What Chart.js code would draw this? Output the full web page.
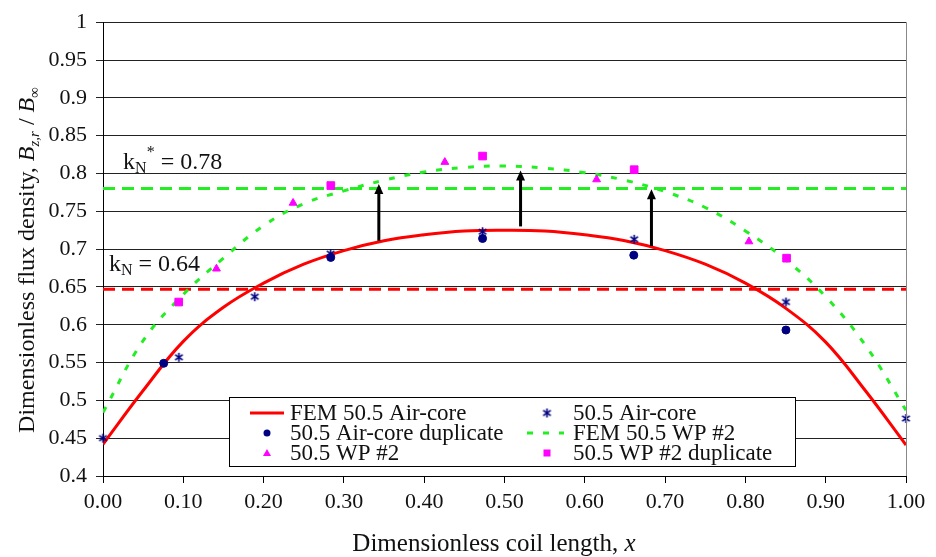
<!DOCTYPE html>
<html lang="en">
  <head>
    <meta charset="UTF-8" />
    <title>Dimensionless flux density along the coil</title>
    <script src="https://cdn.jsdelivr.net/npm/chart.js"></script>
    <style>
      html,
      body {
        margin: 0;
        padding: 0;
        background: #fff;
      }
      #wrap {
        width: 936px;
        height: 557px;
      }
    </style>
  </head>
  <body>
    <div id="wrap"><canvas id="fluxChart"></canvas></div>

    <script>
      const FONT = '"Liberation Serif", "Times New Roman", serif';

      // FEM curves, sampled every 0.05 of coil length
      const femX = [
        0, 0.05, 0.1, 0.15, 0.2, 0.25, 0.3, 0.35, 0.4, 0.45, 0.5, 0.55, 0.6,
        0.65, 0.7, 0.75, 0.8, 0.85, 0.9, 0.95, 1.0,
      ];
      const femAirCore = [
        0.442, 0.513, 0.578, 0.623, 0.655, 0.68, 0.698, 0.711, 0.719, 0.724,
        0.725, 0.724, 0.719, 0.711, 0.698, 0.68, 0.655, 0.622, 0.577, 0.512,
        0.441,
      ];
      const femWP2 = [
        0.484, 0.579, 0.64, 0.688, 0.731, 0.76, 0.777, 0.791, 0.802, 0.808,
        0.81, 0.807, 0.801, 0.791, 0.776, 0.755, 0.724, 0.686, 0.637, 0.572,
        0.487,
      ];

      // measurements
      const airCoreX = [0, 0.0945, 0.189, 0.2835, 0.4727, 0.6615, 0.8505, 1.0];
      const airCoreY = [0.45, 0.557, 0.637, 0.694, 0.723, 0.713, 0.63, 0.476];
      const airCoreDupX = [0.0756, 0.2836, 0.4727, 0.661, 0.8505];
      const airCoreDupY = [0.549, 0.689, 0.714, 0.692, 0.593];
      const wp2X = [0.1413, 0.2367, 0.4257, 0.6147, 0.8044];
      const wp2Y = [0.674, 0.761, 0.815, 0.792, 0.71];
      const wp2DupX = [0.0943, 0.2837, 0.4727, 0.6615, 0.8513];
      const wp2DupY = [0.63, 0.784, 0.823, 0.805, 0.688];

      // coupling factors and the arrows between the two FEM curves
      const kN = 0.647;
      const kNStar = 0.78;
      const arrowX = [0.3435, 0.52, 0.683];
      const arrowFrom = [0.711, 0.73, 0.704];
      const arrowTo = [0.786, 0.804, 0.779];

      const xTicks = [0, 0.1, 0.2, 0.3, 0.4, 0.5, 0.6, 0.7, 0.8, 0.9, 1.0];
      const yTicks = [
        0.4, 0.45, 0.5, 0.55, 0.6, 0.65, 0.7, 0.75, 0.8, 0.85, 0.9, 0.95, 1,
      ];

      const RED = "#ff0000";
      const GREEN = "#22ee22";
      const NAVY = "#000080";
      const MAGENTA = "#ff00ff";

      function pts(xs, ys) {
        return xs.map((v, i) => ({ x: v, y: ys[i] }));
      }

      // asterisk marker: X with a vertical stroke
      function asteriskMark(size, color) {
        const c = document.createElement("canvas");
        c.width = c.height = size;
        const g = c.getContext("2d");
        const m = size / 2;
        const r = size / 2 - 1;
        g.strokeStyle = color;
        g.lineWidth = 1.6;
        g.beginPath();
        g.moveTo(m, m - r);
        g.lineTo(m, m + r);
        g.moveTo(m - r * 0.85, m - r * 0.6);
        g.lineTo(m + r * 0.85, m + r * 0.6);
        g.moveTo(m - r * 0.85, m + r * 0.6);
        g.lineTo(m + r * 0.85, m - r * 0.6);
        g.stroke();
        return c;
      }
      const asterisk = asteriskMark(11, NAVY);

      // text runs with mixed fonts: [text, font, dy]
      function drawRich(ctx, parts, x, y, align) {
        let total = 0;
        parts.forEach((p) => {
          ctx.font = p[1];
          total += ctx.measureText(p[0]).width;
        });
        let cx = align === "center" ? x - total / 2 : x;
        parts.forEach((p) => {
          ctx.font = p[1];
          ctx.fillText(p[0], cx, y + (p[2] || 0));
          cx += ctx.measureText(p[0]).width;
        });
      }

      function fmt2(v) {
        return (Math.floor(v * 100 + 1e-9) / 100).toFixed(2);
      }

      const arrowsPlugin = {
        id: "arrows",
        afterDatasetsDraw(chart) {
          const { ctx, scales } = chart;
          ctx.save();
          ctx.strokeStyle = "#000";
          ctx.fillStyle = "#000";
          ctx.lineWidth = 3;
          arrowX.forEach((v, i) => {
            const px = scales.x.getPixelForValue(v);
            const y0 = scales.y.getPixelForValue(arrowFrom[i]);
            const y1 = scales.y.getPixelForValue(arrowTo[i]);
            ctx.beginPath();
            ctx.moveTo(px, y0);
            ctx.lineTo(px, y1 + 8);
            ctx.stroke();
            ctx.beginPath();
            ctx.moveTo(px, y1);
            ctx.lineTo(px - 4.5, y1 + 10);
            ctx.lineTo(px + 4.5, y1 + 10);
            ctx.closePath();
            ctx.fill();
          });
          ctx.restore();
        },
      };

      function drawSample(ctx, kind, x, y) {
        ctx.save();
        if (kind === "line") {
          ctx.strokeStyle = RED;
          ctx.lineWidth = 3;
          ctx.beginPath();
          ctx.moveTo(x - 17, y);
          ctx.lineTo(x + 17, y);
          ctx.stroke();
        } else if (kind === "dash") {
          ctx.strokeStyle = GREEN;
          ctx.lineWidth = 3;
          ctx.setLineDash([6, 10]);
          ctx.beginPath();
          ctx.moveTo(x - 20, y);
          ctx.lineTo(x + 17, y);
          ctx.stroke();
        } else if (kind === "circle") {
          ctx.fillStyle = NAVY;
          ctx.beginPath();
          ctx.arc(x, y, 3.5, 0, Math.PI * 2);
          ctx.fill();
        } else if (kind === "triangle") {
          ctx.fillStyle = MAGENTA;
          ctx.beginPath();
          ctx.moveTo(x, y - 4);
          ctx.lineTo(x + 4, y + 3);
          ctx.lineTo(x - 4, y + 3);
          ctx.closePath();
          ctx.fill();
        } else if (kind === "square") {
          ctx.fillStyle = MAGENTA;
          ctx.fillRect(x - 3.5, y - 3.5, 7, 7);
        } else if (kind === "asterisk") {
          ctx.drawImage(asterisk, x - 5.5, y - 5.5);
        }
        ctx.restore();
      }

      const legendRows = [
        ["FEM 50.5 Air-core", "line"],
        ["50.5 Air-core", "asterisk"],
        ["50.5 Air-core duplicate", "circle"],
        ["FEM 50.5 WP #2", "dash"],
        ["50.5 WP #2", "triangle"],
        ["50.5 WP #2 duplicate", "square"],
      ];

      const decorPlugin = {
        id: "decor",
        afterDraw(chart) {
          const { ctx, chartArea, scales } = chart;
          ctx.save();

          // right frame edge
          ctx.strokeStyle = "#888";
          ctx.lineWidth = 1;
          ctx.beginPath();
          ctx.moveTo(Math.round(chartArea.right) + 0.5, chartArea.top);
          ctx.lineTo(Math.round(chartArea.right) + 0.5, chartArea.bottom);
          ctx.stroke();

          // k_N labels above their lines
          ctx.fillStyle = "#111";
          ctx.textBaseline = "alphabetic";
          const big = "24px " + FONT;
          const small = "16px " + FONT;
          const yStar = scales.y.getPixelForValue(kNStar);
          drawRich(
            ctx,
            [
              ["k", big],
              ["N", small, 4],
              ["*", small, -12],
              [" = " + fmt2(kNStar), big],
            ],
            scales.x.getPixelForValue(0.025),
            yStar - 20
          );
          const yN = scales.y.getPixelForValue(kN);
          drawRich(
            ctx,
            [
              ["k", big],
              ["N", small, 4],
              [" = " + fmt2(kN), big],
            ],
            scales.x.getPixelForValue(0.0075),
            yN - 18
          );

          // axis titles
          const tFont = "25px " + FONT;
          const tItal = "italic 25px " + FONT;
          drawRich(
            ctx,
            [
              ["Dimensionless coil length, ", tFont],
              ["x", tItal],
            ],
            494,
            551,
            "center"
          );
          ctx.save();
          ctx.translate(34, 260);
          ctx.rotate(-Math.PI / 2);
          drawRich(
            ctx,
            [
              ["Dimensionless flux density, ", "24px " + FONT],
              ["B", "italic 24px " + FONT],
              ["z,r", "italic 15px " + FONT, 5],
              [" / ", "24px " + FONT],
              ["B", "italic 24px " + FONT],
              ["\u221e", "15px " + FONT, 5],
            ],
            0,
            0,
            "center"
          );
          ctx.restore();

          // legend box
          const box = { l: 229.5, t: 397.5, r: 795.5, b: 466.5 };
          ctx.fillStyle = "#fff";
          ctx.fillRect(box.l, box.t, box.r - box.l, box.b - box.t);
          ctx.strokeStyle = "#000";
          ctx.lineWidth = 1;
          ctx.strokeRect(box.l, box.t, box.r - box.l, box.b - box.t);
          legendRows.forEach((row, i) => {
            const col = i % 2;
            const y = 413 + Math.floor(i / 2) * 20;
            drawSample(ctx, row[1], col ? 547 : 267, y);
            ctx.font = "23px " + FONT;
            ctx.fillStyle = "#111";
            ctx.fillText(row[0], col ? 573 : 290, y + 7);
          });

          ctx.restore();
        },
      };

      const ctx = document.getElementById("fluxChart").getContext("2d");
      const fluxChart = new Chart(ctx, {
        type: "scatter",
        data: {
          datasets: [
            {
              label: "50.5 Air-core",
              data: pts(airCoreX, airCoreY),
              pointStyle: asterisk,
              order: 0,
              clip: false,
            },
            {
              label: "50.5 Air-core duplicate",
              data: pts(airCoreDupX, airCoreDupY),
              pointStyle: "circle",
              pointRadius: 4,
              backgroundColor: NAVY,
              borderColor: NAVY,
              order: 0,
              clip: false,
            },
            {
              label: "50.5 WP #2",
              data: pts(wp2X, wp2Y),
              pointStyle: "triangle",
              pointRadius: 4.5,
              backgroundColor: MAGENTA,
              borderColor: MAGENTA,
              order: 0,
              clip: false,
            },
            {
              label: "50.5 WP #2 duplicate",
              data: pts(wp2DupX, wp2DupY),
              pointStyle: "rect",
              pointRadius: 5.4,
              backgroundColor: MAGENTA,
              borderColor: MAGENTA,
              order: 0,
              clip: false,
            },
            {
              label: "FEM 50.5 Air-core",
              data: pts(femX, femAirCore),
              showLine: true,
              borderColor: RED,
              borderWidth: 3,
              pointRadius: 0,
              tension: 0.4,
              order: 2,
            },
            {
              label: "FEM 50.5 WP #2",
              data: pts(femX, femWP2),
              showLine: true,
              borderColor: GREEN,
              borderWidth: 3,
              borderDash: [6, 10],
              pointRadius: 0,
              tension: 0.4,
              order: 2,
            },
            {
              label: "kN",
              data: pts([0, 1], [kN, kN]),
              showLine: true,
              borderColor: RED,
              borderWidth: 3,
              borderDash: [12, 7],
              pointRadius: 0,
              order: 3,
            },
            {
              label: "kN*",
              data: pts([0, 1], [kNStar, kNStar]),
              showLine: true,
              borderColor: GREEN,
              borderWidth: 3,
              borderDash: [12, 7],
              pointRadius: 0,
              order: 3,
            },
          ],
        },
        options: {
          responsive: true,
          maintainAspectRatio: false,
          animation: false,
          layout: { padding: { top: 18, right: 30, left: 0, bottom: 0 } },
          plugins: {
            legend: { display: false },
            tooltip: { enabled: false },
          },
          scales: {
            x: {
              type: "linear",
              min: 0,
              max: 1,
              afterFit: (s) => {
                s.height = 81;
              },
              afterBuildTicks: (s) => {
                s.ticks = xTicks.map((v) => ({ value: v }));
              },
              grid: {
                drawOnChartArea: false,
                drawTicks: true,
                tickLength: 7,
                color: "#000",
              },
              border: { color: "#000", width: 1 },
              ticks: {
                padding: 6,
                color: "#111",
                font: { family: FONT, size: 22 },
                maxRotation: 0,
                callback: (v) => Number(v).toFixed(2),
              },
            },
            y: {
              type: "linear",
              min: 0.4,
              max: 1,
              afterFit: (s) => {
                s.width = 103;
              },
              afterBuildTicks: (s) => {
                s.ticks = yTicks.map((v) => ({ value: v }));
              },
              grid: {
                color: "#222",
                lineWidth: 1,
                tickLength: 7,
              },
              border: { color: "#000", width: 1 },
              ticks: {
                padding: 9,
                color: "#111",
                font: { family: FONT, size: 22 },
                callback: (v) => String(parseFloat(Number(v).toFixed(2))),
              },
            },
          },
        },
        plugins: [arrowsPlugin, decorPlugin],
      });
    </script>
  </body>
</html>
